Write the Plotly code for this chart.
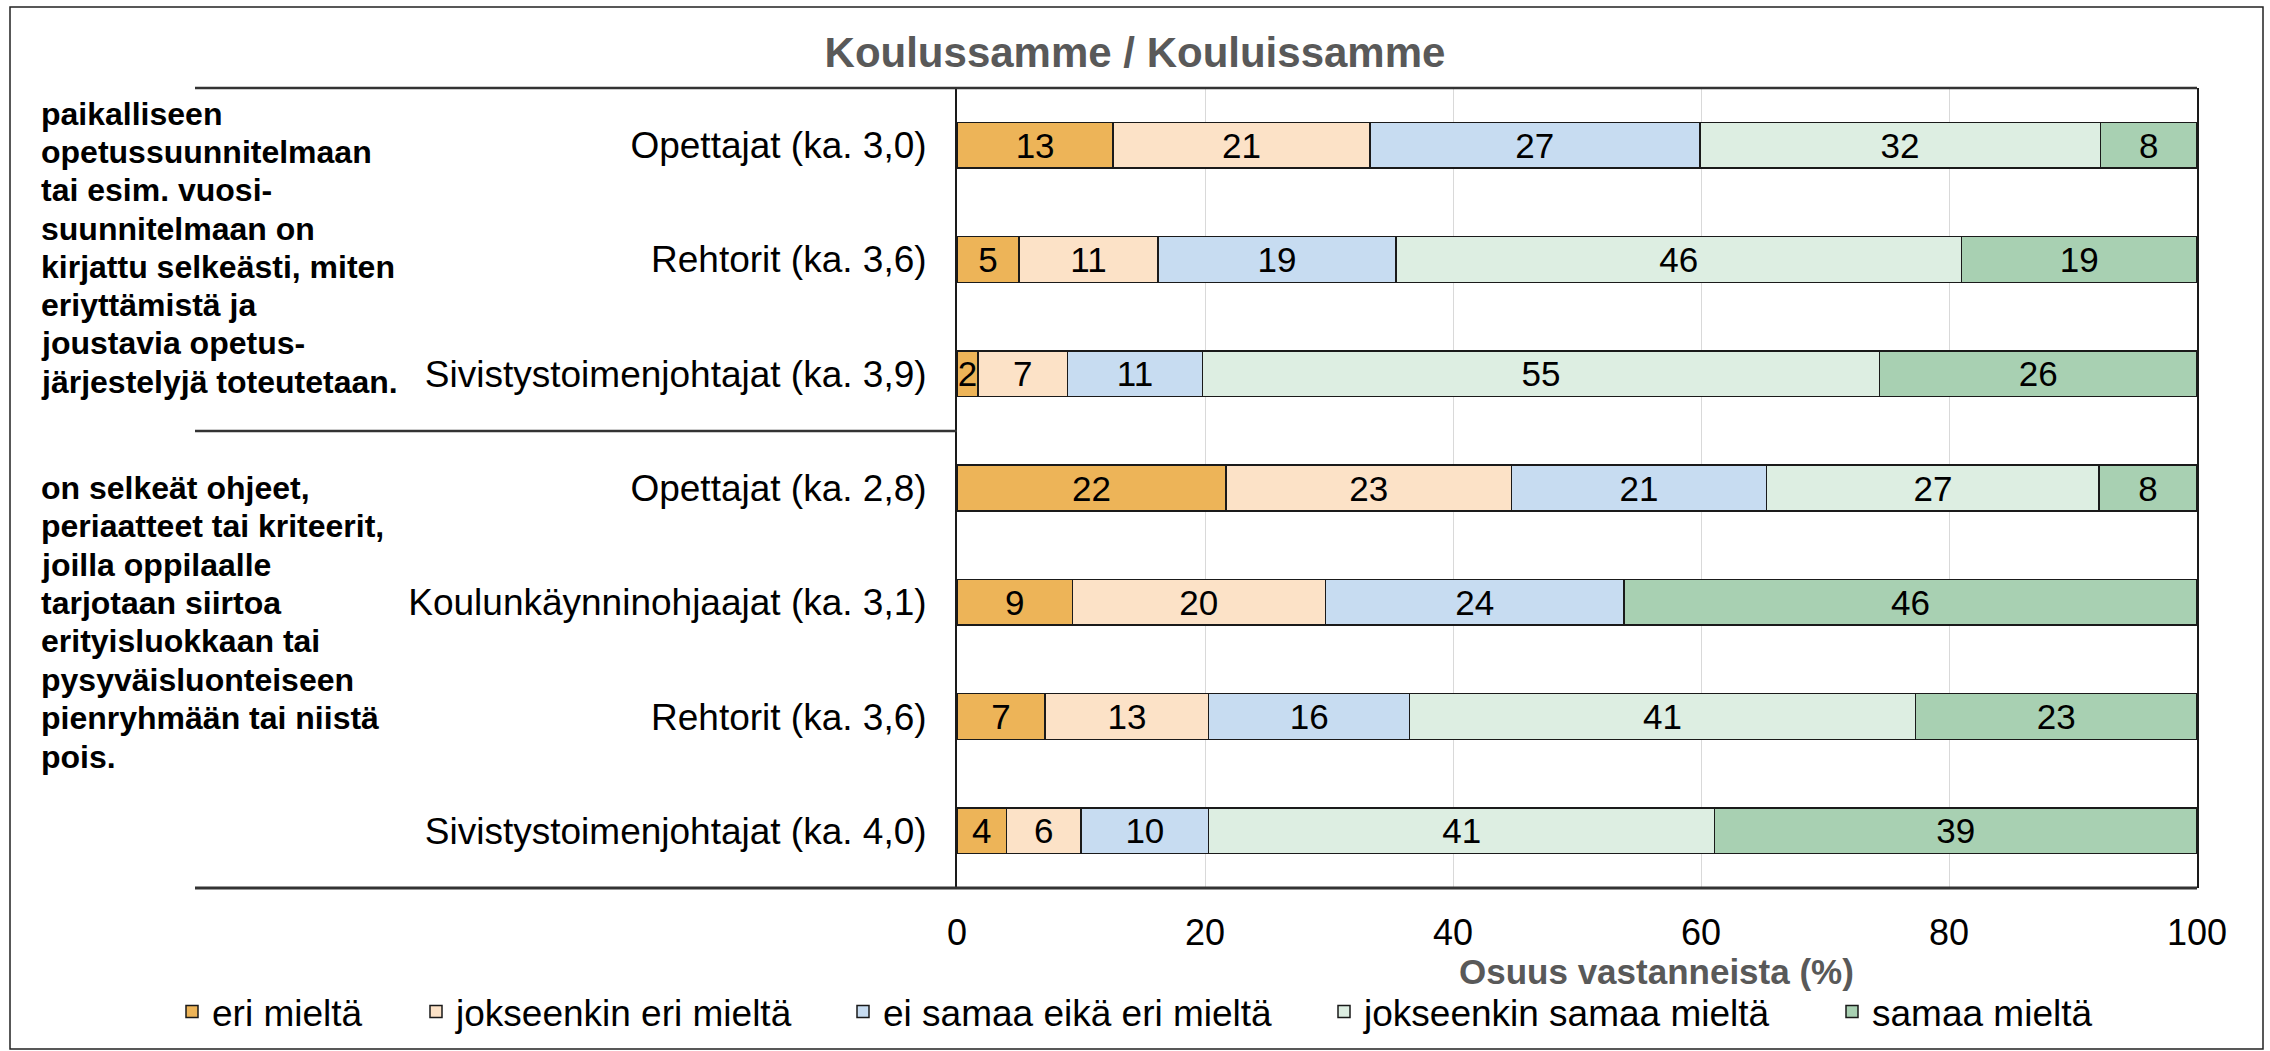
import plotly.graph_objects as go

# ---------------- data ----------------
categories = [
    "Opettajat (ka. 3,0)",
    "Rehtorit (ka. 3,6)",
    "Sivistystoimenjohtajat (ka. 3,9)",
    "Opettajat (ka. 2,8)",
    "Koulunkäynninohjaajat (ka. 3,1)",
    "Rehtorit (ka. 3,6)",
    "Sivistystoimenjohtajat (ka. 4,0)",
]
series_names = [
    "eri mieltä",
    "jokseenkin eri mieltä",
    "ei samaa eikä eri mieltä",
    "jokseenkin samaa mieltä",
    "samaa mieltä",
]
eri_mielta = [12.6, 5.0, 1.7, 21.7, 9.3, 7.1, 4.0]
jokseenkin_eri_mielta = [20.7, 11.2, 7.2, 23.0, 20.4, 13.2, 6.0]
ei_samaa_eika_eri_mielta = [26.6, 19.2, 10.9, 20.6, 24.1, 16.2, 10.3]
jokseenkin_samaa_mielta = [32.3, 45.6, 54.6, 26.8, None, 40.8, 40.8]
samaa_mielta = [7.8, 19.0, 25.6, 7.9, 46.2, 22.7, 38.9]

group1_lines = [
    "paikalliseen",
    "opetussuunnitelmaan",
    "tai esim. vuosi-",
    "suunnitelmaan on",
    "kirjattu selkeästi, miten",
    "eriyttämistä ja",
    "joustavia opetus-",
    "järjestelyjä toteutetaan.",
]
group2_lines = [
    "on selkeät ohjeet,",
    "periaatteet tai kriteerit,",
    "joilla oppilaalle",
    "tarjotaan siirtoa",
    "erityisluokkaan tai",
    "pysyväisluonteiseen",
    "pienryhmään tai niistä",
    "pois.",
]
x_ticks = [0, 20, 40, 60, 80, 100]
title_text = "Koulussamme / Kouluissamme"
x_title = "Osuus vastanneista (%)"

# ---------------- styling ----------------
colors = ["#EDB458", "#FCE2C7", "#C7DCF1", "#DDEEE2", "#A8D0B2"]
FONT = "Arial, Liberation Sans, sans-serif"
W, H = 2270, 1051
L, R, T, B = 957, 2197, 88, 888


def px_x(px):
    return (px - L) / (R - L)


def px_y(py):
    return (B - py) / (B - T)


all_series = [eri_mielta, jokseenkin_eri_mielta, ei_samaa_eika_eri_mielta,
              jokseenkin_samaa_mielta, samaa_mielta]
legend_ids = ["legend", "legend2", "legend3", "legend4", "legend5"]
legend_text_x = [212, 456, 883, 1364, 1872]

fig = go.Figure()
ypos = list(range(len(categories)))
for name, vals, col, lid in zip(series_names, all_series, colors, legend_ids):
    fig.add_trace(go.Bar(
        x=vals, y=ypos, orientation="h", name=name,
        marker=dict(color=col, line=dict(color="#1a1a1a", width=1.5)),
        width=0.4,
        texttemplate="%{x:.0f}", textposition="inside",
        insidetextanchor="middle",
        textfont=dict(family=FONT, size=35, color="black"),
        legend=lid, hoverinfo="x+name",
    ))

shapes = [
    # outer chart border
    dict(type="rect", xref="paper", yref="paper",
         x0=px_x(10), x1=px_x(2263), y0=px_y(7), y1=px_y(1049),
         line=dict(color="#222", width=1.5)),
    # separators
    dict(type="line", xref="paper", yref="paper",
         x0=px_x(195), x1=px_x(2197), y0=px_y(88), y1=px_y(88),
         line=dict(color="#333", width=2.5)),
    dict(type="line", xref="paper", yref="paper",
         x0=px_x(195), x1=px_x(957), y0=px_y(431), y1=px_y(431),
         line=dict(color="#333", width=2.5)),
    dict(type="line", xref="paper", yref="paper",
         x0=px_x(195), x1=px_x(2197), y0=px_y(888), y1=px_y(888),
         line=dict(color="#333", width=3)),
]

annotations = []
for i, line in enumerate(group1_lines):
    annotations.append(dict(
        text=line, xref="paper", yref="paper", x=px_x(39), y=px_y(113.8 + i * 38.27),
        xanchor="left", yanchor="middle", showarrow=False,
        font=dict(family=FONT, size=32, color="black", weight="bold")))
for i, line in enumerate(group2_lines):
    annotations.append(dict(
        text=line, xref="paper", yref="paper", x=px_x(39), y=px_y(487.7 + i * 38.43),
        xanchor="left", yanchor="middle", showarrow=False,
        font=dict(family=FONT, size=32, color="black", weight="bold")))
annotations.append(dict(
    text=x_title, xref="paper", yref="paper", x=px_x(1656), y=px_y(971),
    xanchor="center", yanchor="middle", showarrow=False,
    font=dict(family=FONT, size=35, color="#595959", weight="bold")))

layout_legends = {}
for lid, tx in zip(legend_ids, legend_text_x):
    layout_legends[lid] = dict(
        x=px_x(tx - 40), y=px_y(1012), xanchor="left", yanchor="middle",
        orientation="h", bgcolor="rgba(0,0,0,0)", borderwidth=0,
        font=dict(family=FONT, size=37, color="black"),
        itemclick=False, itemdoubleclick=False,
    )

fig.update_layout(
    width=W, height=H,
    margin=dict(l=L, r=W - R, t=T, b=H - B, autoexpand=False),
    paper_bgcolor="white", plot_bgcolor="white",
    barmode="stack",
    showlegend=True,
    title=dict(text=title_text, x=0.5, xref="container", xanchor="center",
               y=1 - 52 / H, yref="container", yanchor="middle",
               font=dict(family=FONT, size=42, color="#595959", weight="bold")),
    xaxis=dict(range=[0, 100], tickmode="array", tickvals=x_ticks,
               showgrid=True, gridcolor="#D9D9D9", gridwidth=1,
               zeroline=False, showline=False, ticks="",
               tickfont=dict(family=FONT, size=36, color="black"),
               ticklabelstandoff=20, fixedrange=True),
    yaxis=dict(range=[len(categories) - 0.5, -0.5], tickmode="array",
               tickvals=ypos, ticktext=categories,
               showgrid=False, zeroline=False,
               showline=True, linecolor="#1a1a1a", linewidth=2, mirror=True,
               ticks="", tickfont=dict(family=FONT, size=37, color="black"),
               ticklabelstandoff=21, fixedrange=True),
    uniformtext=dict(minsize=35, mode="show"),
    shapes=shapes,
    annotations=annotations,
    **layout_legends,
)

fig.write_html(
    "out.html", include_plotlyjs=True, config={"displayModeBar": False},
    post_script="document.body.style.margin='0';document.body.style.overflow='hidden';",
)
